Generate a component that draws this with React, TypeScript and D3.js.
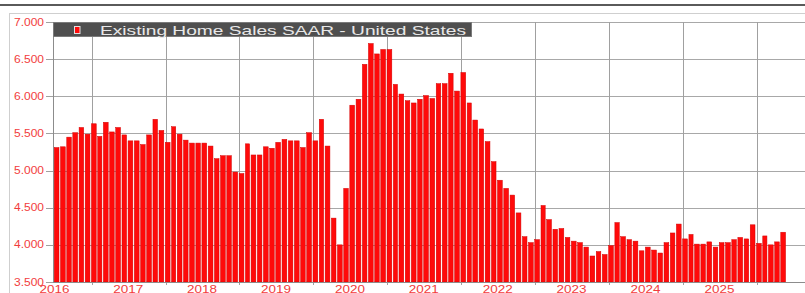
import { useEffect, useRef } from "react";
import * as d3 from "d3";

// Existing home sales, SAAR (millions)
const sales2016 = [5.31, 5.32, 5.45, 5.51, 5.58, 5.49]; // Jul–Dec
const sales2017 = [5.63, 5.46, 5.65, 5.52, 5.58, 5.48, 5.4, 5.4, 5.35, 5.48, 5.69, 5.54];
const sales2018 = [5.38, 5.59, 5.49, 5.41, 5.37, 5.37, 5.37, 5.33, 5.16, 5.2, 5.2, 4.98];
const sales2019 = [4.96, 5.36, 5.21, 5.21, 5.32, 5.3, 5.38, 5.42, 5.4, 5.4, 5.31, 5.51];
const sales2020 = [5.4, 5.69, 5.33, 4.36, 4.0, 4.76, 5.88, 5.96, 6.43, 6.71, 6.57, 6.63];
const sales2021 = [6.63, 6.16, 6.03, 5.94, 5.91, 5.96, 6.01, 5.97, 6.17, 6.17, 6.31, 6.07];
const sales2022 = [6.32, 5.91, 5.68, 5.56, 5.39, 5.12, 4.87, 4.76, 4.67, 4.43, 4.11, 4.03];
const sales2023 = [4.07, 4.53, 4.34, 4.21, 4.22, 4.1, 4.05, 4.03, 3.97, 3.85, 3.91, 3.87];
const sales2024 = [3.99, 4.3, 4.11, 4.07, 4.05, 3.92, 3.97, 3.93, 3.89, 4.03, 4.16, 4.28];
const sales2025 = [4.08, 4.14, 4.01, 4.01, 4.04, 3.97, 4.03, 4.03, 4.07, 4.1, 4.08, 4.27];
const sales2026 = [4.02, 4.12, 4.0, 4.04, 4.17]; // Jan–May

const seriesByYear = [
  { year: 2016, firstMonth: 6, values: sales2016 },
  { year: 2017, firstMonth: 0, values: sales2017 },
  { year: 2018, firstMonth: 0, values: sales2018 },
  { year: 2019, firstMonth: 0, values: sales2019 },
  { year: 2020, firstMonth: 0, values: sales2020 },
  { year: 2021, firstMonth: 0, values: sales2021 },
  { year: 2022, firstMonth: 0, values: sales2022 },
  { year: 2023, firstMonth: 0, values: sales2023 },
  { year: 2024, firstMonth: 0, values: sales2024 },
  { year: 2025, firstMonth: 0, values: sales2025 },
  { year: 2026, firstMonth: 0, values: sales2026 },
];

const yTicks = [3.5, 4.0, 4.5, 5.0, 5.5, 6.0, 6.5, 7.0];
const yearLabels = [2016, 2017, 2018, 2019, 2020, 2021, 2022, 2023, 2024, 2025];
const gridYears = [2017, 2018, 2019, 2020, 2021, 2022, 2023, 2024, 2025, 2026];

const TITLE = "Existing Home Sales SAAR - United States";

const WIDTH = 805;
const HEIGHT = 293;
const PLOT = { left: 53, right: 805, top: 22, bottom: 282 };
const RED = "#ff0a0a";
const LABEL_RED = "#f23c3c";
const FONT = "'Liberation Sans', Arial, sans-serif";

export default function App() {
  const svgRef = useRef<SVGSVGElement>(null);

  useEffect(() => {
    const svg = d3.select(svgRef.current);
    svg.selectAll("*").remove();

    svg.attr("width", WIDTH).attr("height", HEIGHT).attr("viewBox", `0 0 ${WIDTH} ${HEIGHT}`);

    svg.append("rect").attr("width", WIDTH).attr("height", HEIGHT).attr("fill", "#ffffff");

    // panel frame lines at the top
    svg.append("line")
      .attr("x1", 0).attr("x2", WIDTH).attr("y1", 5).attr("y2", 5)
      .attr("stroke", "#5a5a5a").attr("stroke-width", 2);
    svg.append("line")
      .attr("x1", 9).attr("x2", WIDTH).attr("y1", 13.5).attr("y2", 13.5)
      .attr("stroke", "#cfcfcf").attr("stroke-width", 1);
    svg.append("line")
      .attr("x1", 9.5).attr("x2", 9.5).attr("y1", 13.5).attr("y2", HEIGHT)
      .attr("stroke", "#cfcfcf").attr("stroke-width", 1);

    const data = seriesByYear.flatMap((s) =>
      s.values.map((v, i) => ({ date: new Date(s.year, s.firstMonth + i, 1), value: v }))
    );

    const x = d3.scaleTime()
      .domain([new Date(2016, 0, 1), new Date(2026, 0, 1)])
      .range([17.6, 756.7]);

    const y = d3.scaleLinear()
      .domain([3.5, 7])
      .range([PLOT.bottom, PLOT.top]);

    // horizontal grid
    svg.append("g")
      .selectAll("line")
      .data(yTicks)
      .join("line")
      .attr("x1", PLOT.left).attr("x2", PLOT.right)
      .attr("y1", (d) => Math.round(y(d)) + 0.5).attr("y2", (d) => Math.round(y(d)) + 0.5)
      .attr("stroke", "#a8a8a8").attr("stroke-width", 1);

    // vertical grid at year starts
    svg.append("g")
      .selectAll("line")
      .data(gridYears)
      .join("line")
      .attr("x1", (d) => Math.round(x(new Date(d, 0, 1))) + 0.5)
      .attr("x2", (d) => Math.round(x(new Date(d, 0, 1))) + 0.5)
      .attr("y1", PLOT.top).attr("y2", PLOT.bottom + 3)
      .attr("stroke", "#a0a0a0").attr("stroke-width", 1);

    // bars
    svg.append("g")
      .selectAll("rect")
      .data(data)
      .join("rect")
      .attr("x", (d) => x(d.date) - 0.2)
      .attr("y", (d) => y(d.value))
      .attr("width", (d) => x(d3.timeMonth.offset(d.date, 1)) - x(d.date) - 1.5)
      .attr("height", (d) => y(3.5) - y(d.value))
      .attr("fill", RED)
      .attr("stroke", "#d40000")
      .attr("stroke-width", 0.5);

    // axes lines
    svg.append("line")
      .attr("x1", PLOT.left + 0.5).attr("x2", PLOT.left + 0.5)
      .attr("y1", PLOT.top).attr("y2", PLOT.bottom)
      .attr("stroke", "#8c8c8c").attr("stroke-width", 1);
    svg.append("line")
      .attr("x1", PLOT.left).attr("x2", PLOT.right)
      .attr("y1", PLOT.bottom + 0.5).attr("y2", PLOT.bottom + 0.5)
      .attr("stroke", "#8c8c8c").attr("stroke-width", 1);

    // y ticks + labels
    const yAxis = svg.append("g");
    yAxis.selectAll("line")
      .data(yTicks)
      .join("line")
      .attr("x1", 46).attr("x2", PLOT.left)
      .attr("y1", (d) => Math.round(y(d)) + 0.5).attr("y2", (d) => Math.round(y(d)) + 0.5)
      .attr("stroke", "#a0a0a0").attr("stroke-width", 1);
    yAxis.selectAll("text")
      .data(yTicks)
      .join("text")
      .attr("x", 44)
      .attr("y", (d) => y(d) + 3.5)
      .attr("text-anchor", "end")
      .attr("font-size", "10px")
      .attr("font-family", FONT)
      .attr("fill", LABEL_RED)
      .attr("textLength", 30)
      .attr("lengthAdjust", "spacingAndGlyphs")
      .text((d) => d3.format(".3f")(d));

    // x labels centred in each year
    svg.append("g")
      .selectAll("text")
      .data(yearLabels)
      .join("text")
      .attr("x", (d) => x(new Date(d, 6, 1)) - 15)
      .attr("y", 292.5)
      .attr("font-size", "10px")
      .attr("font-family", FONT)
      .attr("fill", LABEL_RED)
      .attr("textLength", 30)
      .attr("lengthAdjust", "spacingAndGlyphs")
      .text((d) => String(d));

    // legend / title box
    svg.append("rect")
      .attr("x", 53.5).attr("y", 22.5).attr("width", 418).attr("height", 14)
      .attr("fill", "#4f4f4f").attr("stroke", "#7a7a7a").attr("stroke-width", 1);
    svg.append("rect")
      .attr("x", 74.5).attr("y", 26.5).attr("width", 5.5).attr("height", 7)
      .attr("fill", RED).attr("stroke", "#e0e0e0").attr("stroke-width", 1);
    svg.append("text")
      .attr("x", 100)
      .attr("y", 35)
      .attr("font-size", "13px")
      .attr("font-family", FONT)
      .attr("fill", "#e8e8e8")
      .attr("textLength", 366)
      .attr("lengthAdjust", "spacingAndGlyphs")
      .text(TITLE);
  }, []);

  return <svg ref={svgRef} style={{ position: "absolute", left: 0, top: 0, display: "block" }} />;
}
